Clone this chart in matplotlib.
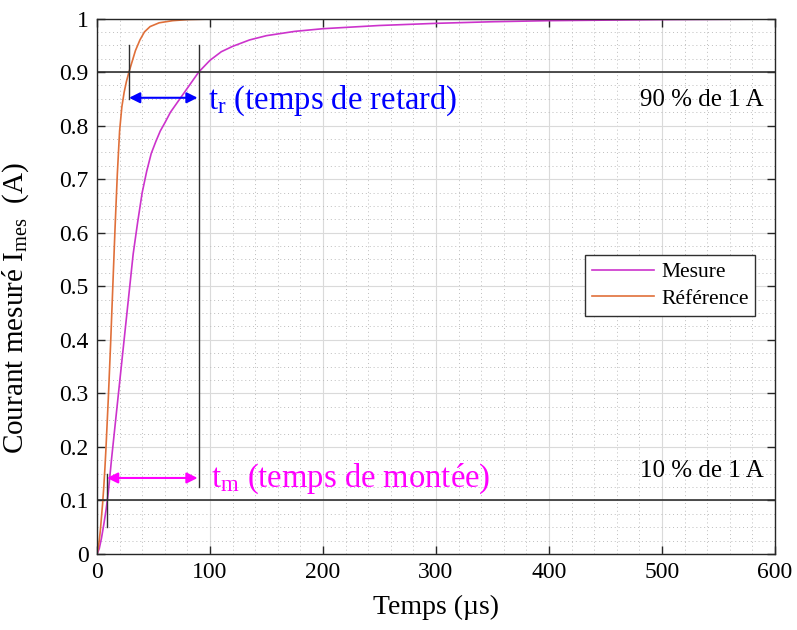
import matplotlib
matplotlib.use('Agg')
import matplotlib.pyplot as plt
from matplotlib.ticker import MultipleLocator, FixedLocator

# mesured current (µs, A)
t_mes = [0, 2, 4, 6, 8, 10, 13, 16, 20, 24, 28, 32, 36, 40, 44, 48, 52, 56,
         60, 65, 70, 75, 80, 85, 90, 100, 110, 120, 135, 150, 175, 200, 250,
         300, 350, 400, 450, 500, 600]
i_mes = [0, 0.01, 0.03, 0.055, 0.082, 0.115, 0.18, 0.24, 0.32, 0.40, 0.48,
         0.56, 0.62, 0.675, 0.715, 0.748, 0.77, 0.79, 0.805, 0.825, 0.84,
         0.855, 0.87, 0.885, 0.90, 0.922, 0.938, 0.948, 0.96, 0.968, 0.976,
         0.981, 0.987, 0.991, 0.994, 0.996, 0.997, 0.998, 0.999]

# reference current
t_ref = [0, 1, 2, 3, 4, 5, 6, 7, 8, 9, 10, 12, 14, 16, 18, 20, 22, 24, 26,
         28, 30, 34, 38, 42, 47, 55, 67, 80, 100, 150, 600]
i_ref = [0, 0.01, 0.025, 0.045, 0.07, 0.095, 0.125, 0.16, 0.2, 0.245, 0.29,
         0.39, 0.5, 0.61, 0.71, 0.79, 0.835, 0.862, 0.882, 0.898, 0.912,
         0.94, 0.96, 0.975, 0.985, 0.992, 0.996, 0.998, 0.999, 1.0, 1.0]

# threshold levels and times read on the curves
seuil_bas, seuil_haut = 0.1, 0.9
t10_mes, t90_ref, t90_mes = 8.9, 28.4, 90.5

plt.rcParams['font.family'] = ['Liberation Serif', 'DejaVu Serif']
plt.rcParams['mathtext.fontset'] = 'custom'
plt.rcParams['mathtext.rm'] = 'Liberation Serif'
plt.rcParams['mathtext.it'] = 'Liberation Serif:italic'

fig = plt.figure(figsize=(7.97, 6.30), dpi=100)
ax = fig.add_axes([0.1217, 0.1206, 0.8507, 0.85])

ax.plot(t_mes, i_mes, color='#cc33cc', lw=1.2, label='Mesure')
ax.plot(t_ref, i_ref, color='#e0703a', lw=1.2, label='Référence')

ax.axhline(seuil_haut, color='#303030', lw=1.2)
ax.axhline(seuil_bas, color='#303030', lw=1.2)
ax.plot([t90_ref, t90_ref], [0.85, 0.95], color='#303030', lw=1.0)
ax.plot([t90_mes, t90_mes], [0.125, 0.95], color='#303030', lw=1.0)
ax.plot([t10_mes, t10_mes], [0.05, 0.15], color='#303030', lw=1.0)

ax.annotate('', xy=(t90_mes - 1.5, 0.852), xytext=(t90_ref, 0.852),
            arrowprops=dict(arrowstyle='<|-|>', color='#0000ff', lw=1.5,
                            mutation_scale=16, shrinkA=0, shrinkB=0))
ax.annotate('', xy=(t90_mes - 1.5, 0.142), xytext=(t10_mes, 0.142),
            arrowprops=dict(arrowstyle='<|-|>', color='#ff00ff', lw=1.5,
                            mutation_scale=16, shrinkA=0, shrinkB=0))

ax.text(98, 0.847, r'$\mathrm{t_r}$ (temps de retard)', color='#0000ff',
        fontsize=23.5, va='center', ha='left')
ax.text(101, 0.14, r'$\mathrm{t_m}$ (temps de montée)', color='#ff00ff',
        fontsize=23.5, va='center', ha='left')
ax.text(590, 0.847, '90 % de 1 A', fontsize=18, va='center', ha='right')
ax.text(590, 0.155, '10 % de 1 A', fontsize=18, va='center', ha='right')

ax.set_xlim(0, 600)
ax.set_ylim(0, 1)
ax.xaxis.set_major_locator(MultipleLocator(100))
ax.xaxis.set_minor_locator(MultipleLocator(20))
ax.yaxis.set_major_locator(FixedLocator([i / 10 for i in range(11)]))
ax.yaxis.set_minor_locator(MultipleLocator(0.025))
ax.set_yticklabels(['0'] + ['%.1f' % (i / 10) for i in range(1, 10)] + ['1'])

ax.grid(which='major', color='#dadada', lw=0.8)
ax.grid(which='minor', color='#bdbdbd', lw=0.7, linestyle=(0, (1, 3)))
ax.set_axisbelow(True)
ax.tick_params(which='major', direction='in', length=6, width=1,
               top=True, right=True, labelsize=17, pad=6, color='#262626')
ax.tick_params(which='minor', length=0)
for s in ax.spines.values():
    s.set_color('#262626')
    s.set_linewidth(1.0)

ax.set_xlabel('Temps (µs)', fontsize=20, labelpad=8)
ax.set_ylabel(r'Courant mesuré $\mathrm{I_{mes}}$  (A)', fontsize=21, labelpad=6)
ax.yaxis.set_label_coords(-0.098, 0.46)

leg = ax.legend(loc='upper right', bbox_to_anchor=(0.971, 0.558),
                fontsize=15.5, handlelength=2.9, fancybox=False,
                framealpha=1, edgecolor='#303030', borderaxespad=0,
                handletextpad=0.3, labelspacing=0.3, borderpad=0.32)
leg.get_frame().set_linewidth(1.0)

fig.savefig('out.png', dpi=100)
